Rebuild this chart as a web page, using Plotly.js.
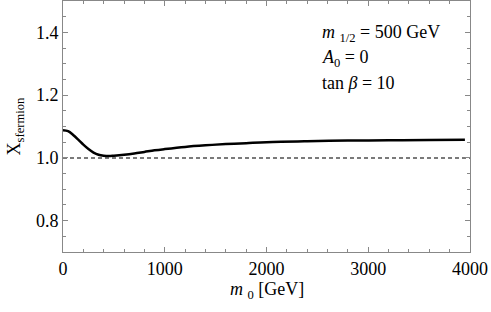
<!DOCTYPE html>
<html>
<head>
<meta charset="utf-8">
<script src="https://cdn.plot.ly/plotly-3.0.1.min.js"></script>
<style>html,body{margin:0;padding:0;background:#fff;}#chart{width:491px;height:312px;}</style>
</head>
<body>
<div id="chart"></div>
<script>
const m0 = [0, 50, 100, 150, 200, 250, 300, 350, 400, 450, 500, 600, 700, 800, 900, 1000, 1200, 1400, 1600, 1800, 2000, 2400, 2800, 3200, 3600, 3950];
const xSfermion = [1.088, 1.085, 1.073, 1.058, 1.042, 1.028, 1.017, 1.010, 1.007, 1.006, 1.007, 1.010, 1.014, 1.019, 1.024, 1.028, 1.035, 1.040, 1.044, 1.047, 1.050, 1.053, 1.055, 1.056, 1.057, 1.058];
const refX = [0, 4000];
const refY = [1.0, 1.0];
const xTicks = [0, 1000, 2000, 3000, 4000];
const yTicks = [0.8, 1.0, 1.2, 1.4];
const yTickText = ['0.8', '1.0', '1.2', '1.4'];
const xTitle = '<i>m</i> <sub>0</sub> [GeV]';
const yTitle = 'X<sub>sfermion</sub>';
const notes = ['<i>m</i> <sub>1/2</sub> = 500 GeV', '<i>A</i><sub>0</sub> = 0', 'tan <i>β</i> = 10'];

const font = {family: 'Liberation Serif, Times New Roman, serif', size: 18, color: '#000'};
const axisCommon = {
  showgrid: false, zeroline: false, showline: true, linecolor: '#888', linewidth: 1,
  mirror: 'ticks', ticks: 'inside', ticklen: 5, tickcolor: '#888', tickwidth: 1,
  tickfont: font
};

const traces = [
  {x: refX, y: refY, mode: 'lines', line: {color: '#7a7a7a', width: 2, dash: '4px,3px'}, hoverinfo: 'skip', showlegend: false},
  {x: m0, y: xSfermion, mode: 'lines', line: {color: '#000', width: 2.5, shape: 'spline', smoothing: 1}, showlegend: false}
];

const annotations = notes.map((t, i) => ({
  text: t, xref: 'paper', yref: 'paper', x: (320 - 63) / 407, y: 1 - (32 + 25 * i) / 251,
  xanchor: 'left', yanchor: 'middle', showarrow: false, font: font, align: 'left'
}));
annotations.push({
  text: xTitle, xref: 'paper', yref: 'paper', x: 0.5, y: -(290 - 252) / 251,
  xanchor: 'center', yanchor: 'middle', showarrow: false, font: font
});

const layout = {
  width: 491, height: 312,
  margin: {l: 63, r: 21, t: 1, b: 60},
  paper_bgcolor: '#fff', plot_bgcolor: '#fff',
  font: font,
  showlegend: false,
  xaxis: Object.assign({}, axisCommon, {
    range: [0, 4000], tickvals: xTicks, ticktext: xTicks.map(String),
    minor: {dtick: 200, ticks: 'inside', ticklen: 3, tickcolor: '#888', showgrid: false}
  }),
  yaxis: Object.assign({}, axisCommon, {
    range: [0.7, 1.5], tickvals: yTicks, ticktext: yTickText, automargin: true,
    minor: {dtick: 0.05, tick0: 0.7, ticks: 'inside', ticklen: 3, tickcolor: '#888', showgrid: false},
    title: {text: yTitle, font: font, standoff: 10}
  }),
  annotations: annotations
};

Plotly.newPlot('chart', traces, layout, {displayModeBar: false, staticPlot: true});
</script>
</body>
</html>
